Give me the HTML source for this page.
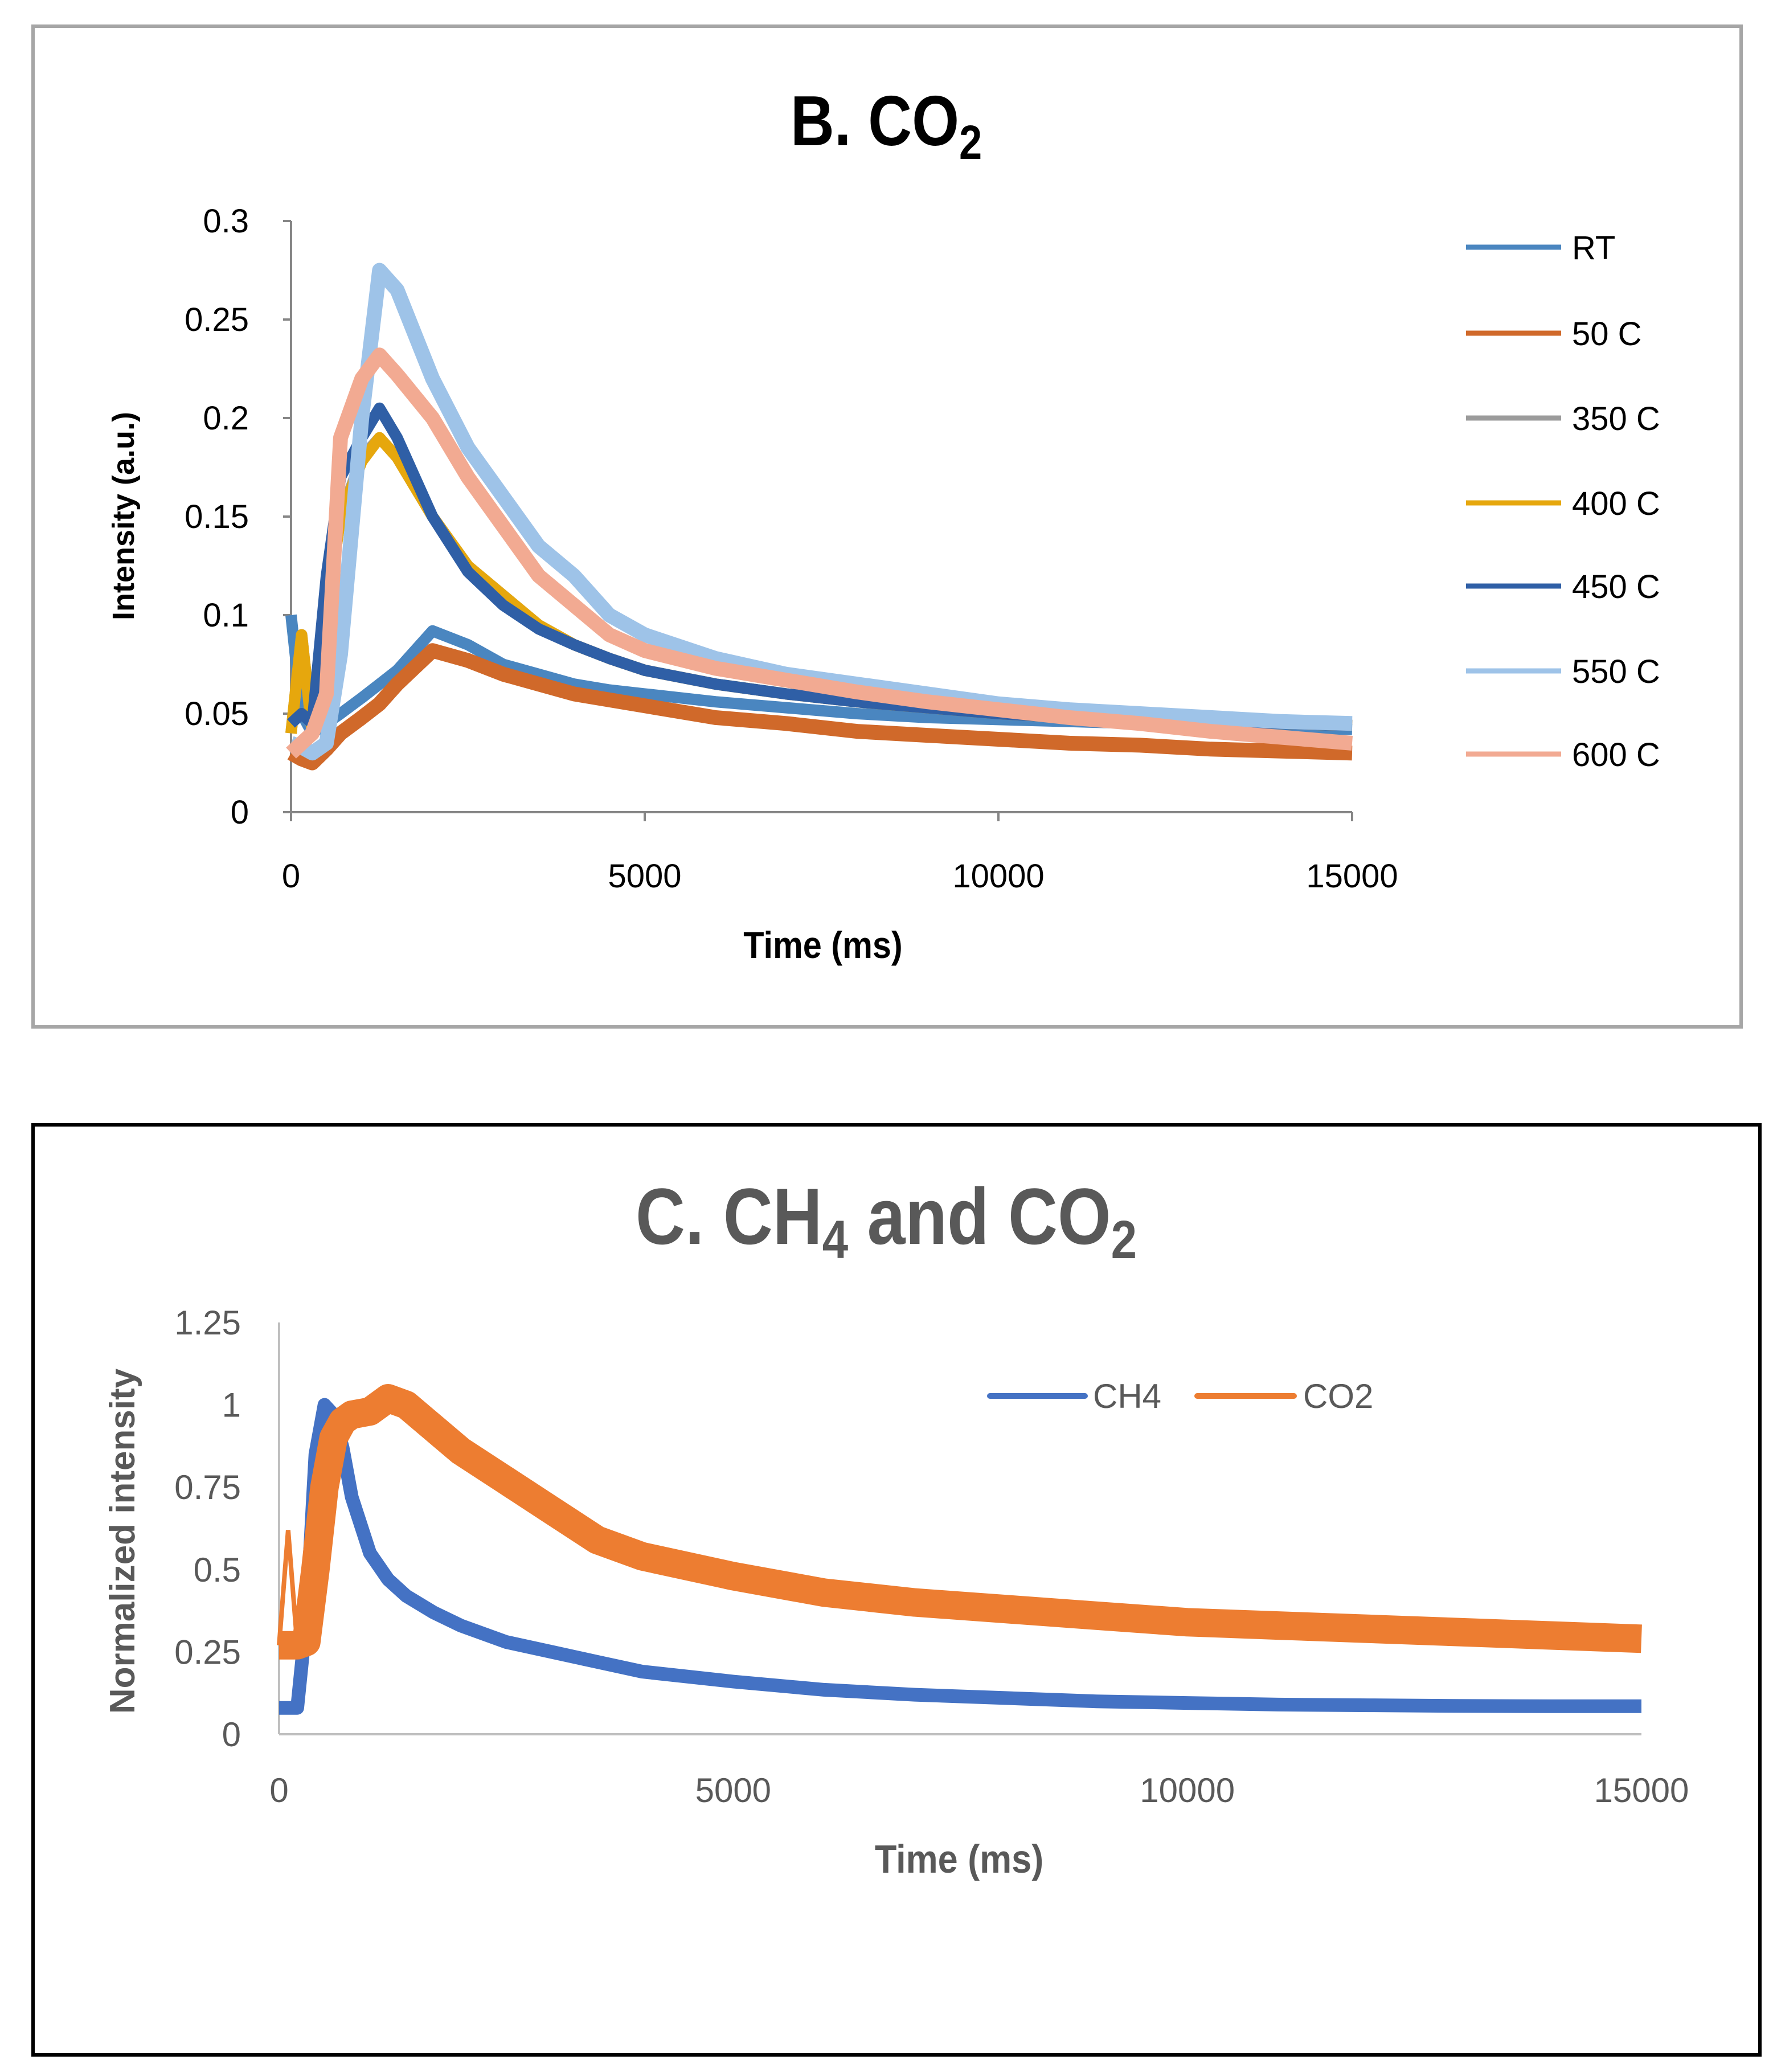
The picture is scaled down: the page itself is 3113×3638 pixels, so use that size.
<!DOCTYPE html>
<html><head><meta charset="utf-8">
<style>
html,body{margin:0;padding:0;background:#fff;}
svg{display:block;}
text{font-family:"Liberation Sans Narrow","Liberation Sans",sans-serif;}
</style></head>
<body>
<svg id="svg" width="3113" height="3638" viewBox="0 0 3113 3638" xmlns="http://www.w3.org/2000/svg">
<rect x="58" y="46" width="2999" height="1757" fill="#fff" stroke="#a6a6a6" stroke-width="6"/>
<g transform="translate(1556,0) scale(0.86,1)"><text x="0" y="255" font-size="124" font-weight="bold" text-anchor="middle" fill="#000">B. CO<tspan font-size="84" dy="24">2</tspan></text></g>
<text transform="translate(235,906) rotate(-90)" font-size="54" font-weight="bold" text-anchor="middle" fill="#000" style="font-family:'Liberation Sans',sans-serif">Intensity (a.u.)</text>
<g transform="translate(1445,0) scale(0.9,1)"><text x="0" y="1682" font-size="66" font-weight="bold" text-anchor="middle" fill="#000">Time (ms)</text></g>
<g id="gB"></g>
<g id="legB"></g>

<rect x="58" y="1975" width="3032" height="1633" fill="#fff" stroke="#000" stroke-width="6"/>
<g transform="translate(1556,0) scale(0.86,1)"><text x="0" y="2184" font-size="140" font-weight="bold" text-anchor="middle" fill="#595959">C. CH<tspan font-size="95" dy="25">4</tspan><tspan dy="-25"> and CO</tspan><tspan font-size="95" dy="25">2</tspan></text></g>
<text transform="translate(236,2706) rotate(-90)" font-size="62" font-weight="bold" text-anchor="middle" fill="#595959" style="font-family:'Liberation Sans',sans-serif">Normalized intensity</text>
<g transform="translate(1684,0) scale(0.9,1)"><text x="0" y="3288" font-size="70" font-weight="bold" text-anchor="middle" fill="#595959">Time (ms)</text></g>
<g id="gC"></g>
<g id="legC"></g>
</svg>
<script>
// ---- Chart B data ----
const bTimes = [0,150,300,500,700,1000,1250,1500,2000,2500,3000,3500,4000,4500,5000,6000,7000,8000,9000,10000,11000,12000,13000,14000,15000];
const bSeriesNames = ["RT","50 C","350 C","400 C","450 C","550 C","600 C"];
const bRT   = [0.1,0.05,0.04,0.045,0.05,0.058,0.065,0.072,0.092,0.085,0.075,0.07,0.065,0.062,0.06,0.056,0.053,0.05,0.048,0.047,0.046,0.045,0.044,0.043,0.042];
const b50   = [0.03,0.027,0.025,0.032,0.04,0.048,0.055,0.065,0.082,0.077,0.07,0.065,0.06,0.057,0.054,0.048,0.045,0.041,0.039,0.037,0.035,0.034,0.032,0.031,0.03];
const b350  = [0.04,0.09,0.04,0.1,0.15,0.18,0.19,0.18,0.15,0.125,0.11,0.095,0.085,0.078,0.072,0.065,0.06,0.056,0.053,0.05,0.048,0.047,0.046,0.045,0.044];
const b400  = [0.04,0.09,0.04,0.1,0.15,0.178,0.19,0.18,0.15,0.125,0.11,0.095,0.085,0.078,0.072,0.065,0.06,0.056,0.053,0.05,0.048,0.047,0.046,0.045,0.044];
const b450  = [0.045,0.05,0.045,0.12,0.17,0.19,0.205,0.19,0.15,0.122,0.105,0.093,0.085,0.078,0.072,0.065,0.06,0.056,0.053,0.05,0.048,0.047,0.046,0.045,0.044];
const b550  = [0.035,0.033,0.03,0.035,0.08,0.2,0.275,0.265,0.22,0.185,0.16,0.135,0.12,0.1,0.09,0.078,0.07,0.065,0.06,0.055,0.052,0.05,0.048,0.046,0.045];
const b600  = [0.03,0.035,0.04,0.06,0.19,0.22,0.232,0.222,0.2,0.17,0.145,0.12,0.105,0.09,0.082,0.073,0.067,0.061,0.056,0.052,0.048,0.045,0.041,0.038,0.035];
const bColors = ["#4a86c0","#d0692a","#9b9b9b","#e6a70d","#2f5fa6","#9ec3e8","#f2aa92"];
const bYTicks = ["0","0.05","0.1","0.15","0.2","0.25","0.3"];
const bXTicks = ["0","5000","10000","15000"];

// ---- Chart C data ----
const cTimes = [0,100,200,300,400,500,600,700,800,1000,1200,1400,1700,2000,2500,3000,3500,4000,5000,6000,7000,8000,9000,10000,11000,12000,13000,14000,15000];
const cCH4 = [0.08,0.08,0.08,0.35,0.85,1.0,0.97,0.87,0.72,0.55,0.47,0.42,0.37,0.33,0.28,0.25,0.22,0.19,0.16,0.135,0.12,0.11,0.1,0.095,0.09,0.088,0.086,0.085,0.085];
const cCO2 = [0.27,0.62,0.27,0.28,0.5,0.75,0.9,0.95,0.97,0.98,1.02,1.0,0.93,0.86,0.77,0.68,0.59,0.54,0.48,0.43,0.4,0.38,0.36,0.34,0.33,0.32,0.31,0.3,0.29];
const cSeriesNames = ["CH4","CO2"];
const cColors = ["#4472c4","#ed7d31"];
const cYTicks = ["0","0.25","0.5","0.75","1","1.25"];
const cXTicks = ["0","5000","10000","15000"];

const NS="http://www.w3.org/2000/svg";
function mk(tag,attrs,parent){const e=document.createElementNS(NS,tag);for(const k in attrs)e.setAttribute(k,attrs[k]);parent.appendChild(e);return e;}

// Chart B axes
const bX=v=>511+(v/15000)*(2374-511);
const bY=v=>1426-(v/0.3)*(1426-388);
const gB=document.getElementById('gB');
let ax=mk('line',{x1:511,y1:388,x2:511,y2:1426,stroke:'#868686','stroke-width':4},gB);


ax=mk('line',{x1:511,y1:1426,x2:2374,y2:1426,stroke:'#868686','stroke-width':4},gB);


bYTicks.forEach(t=>{const y=bY(parseFloat(t));
  mk('line',{x1:497,y1:y,x2:511,y2:y,stroke:'#868686','stroke-width':4},gB);
  const tx=mk('text',{x:437,y:y+20,'font-size':58,'text-anchor':'end',fill:'#000'},gB);tx.textContent=t;
  
  
});
bXTicks.forEach(t=>{const x=bX(parseFloat(t));
  mk('line',{x1:x,y1:1426,x2:x,y2:1442,stroke:'#868686','stroke-width':4},gB);
  const tx=mk('text',{x:x,y:1558,'font-size':58,'text-anchor':'middle',fill:'#000'},gB);tx.textContent=t;
  
  
});
const bData=[bRT,b50,b350,b400,b450,b550,b600];
bData.forEach((s,i)=>{
  const pts=s.map((v,j)=>bX(bTimes[j]).toFixed(1)+','+bY(v).toFixed(1)).join(' ');
  const p=mk('polyline',{points:pts,fill:'none',stroke:bColors[i],'stroke-width':(i==1||i==6||i==5)?26:20,'stroke-linejoin':'round'},gB);
  
  
});
const legB=document.getElementById('legB');
const legBy=[434,585,734,883,1029,1178,1324];
bSeriesNames.forEach((n,i)=>{
  mk('line',{x1:2574,y1:legBy[i],x2:2741,y2:legBy[i],stroke:bColors[i],'stroke-width':9},legB);
  const t=mk('text',{x:2760,y:legBy[i]+21,'font-size':58,fill:'#000'},legB);t.textContent=n;
  
  
});

// Chart C axes
const cX=v=>490+(v/15000)*(2882-490);
const cY=v=>3045-(v/1.25)*(3045-2322);
const gC=document.getElementById('gC');
ax=mk('line',{x1:490,y1:2322,x2:490,y2:3045,stroke:'#bfbfbf','stroke-width':4},gC);


ax=mk('line',{x1:490,y1:3045,x2:2882,y2:3045,stroke:'#bfbfbf','stroke-width':4},gC);


cYTicks.forEach(t=>{const y=cY(parseFloat(t));
  const tx=mk('text',{x:423,y:y+21,'font-size':60,'text-anchor':'end',fill:'#595959'},gC);tx.textContent=t;
  
  
});
cXTicks.forEach(t=>{const x=cX(parseFloat(t));
  const tx=mk('text',{x:x,y:3164,'font-size':60,'text-anchor':'middle',fill:'#595959'},gC);tx.textContent=t;
  
  
});
// CO2: thin initial spike, then thick band
const spk=mk('polyline',{points:[0,1,2].map(j=>cX(cTimes[j]).toFixed(1)+','+cY(cCO2[j]).toFixed(1)).join(' '),fill:'none',stroke:cColors[1],'stroke-width':8},gC);


const cWidths=[24,50];
[cCH4,cCO2].forEach((s,i)=>{
  const idx=s.map((v,j)=>j).filter(j=>!(i==1&&j==1));
  const pts=idx.map(j=>cX(cTimes[j]).toFixed(1)+','+cY(s[j]).toFixed(1)).join(' ');
  const p=mk('polyline',{points:pts,fill:'none',stroke:cColors[i],'stroke-width':cWidths[i],'stroke-linejoin':'round'},gC);
  
  
});
const legC=document.getElementById('legC');
const legCx=[[1738,1905,1919],[2102,2272,2288]];
cSeriesNames.forEach((n,i)=>{
  mk('line',{x1:legCx[i][0],y1:2451,x2:legCx[i][1],y2:2451,stroke:cColors[i],'stroke-width':10,'stroke-linecap':'round'},legC);
  const t=mk('text',{x:legCx[i][2],y:2472,'font-size':60,fill:'#595959'},legC);t.textContent=n;
  
  
});
</script>
</body></html>
